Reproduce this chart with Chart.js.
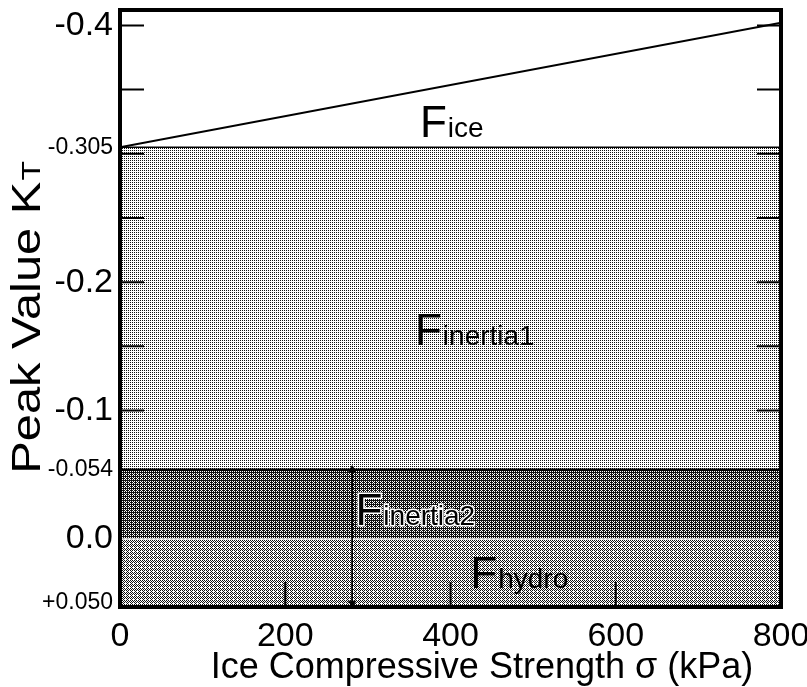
<!DOCTYPE html>
<html>
<head>
<meta charset="utf-8">
<script src="https://cdn.jsdelivr.net/npm/chart.js@4.4.1/dist/chart.umd.min.js"></script>
<style>
  html, body { margin: 0; padding: 0; background: #fff; }
</style>
</head>
<body>
<canvas id="myChart" width="807" height="687"></canvas>
<script>
'use strict';

// band boundaries, Peak Value KT against ice strength (kPa)
let xRange = [0, 800];
let hydroLine = [0, 0];
let inertia2Line = [-0.054, -0.054];
let inertia1Line = [-0.305, -0.305];
let iceLine = [-0.305, -0.402];
let arrowX = [281, 281];
let arrowY = [-0.054, 0.05];

let yTickValues = [-0.4, -0.305, -0.2, -0.1, -0.054, 0, 0.05];
let yTickText = ['-0.4', '-0.305', '-0.2', '-0.1', '-0.054', '0.0', '+0.050'];
let yBigTicks = [-0.4, -0.2, -0.1, 0];
let yInnerTicks = [-0.4, -0.35, -0.3, -0.25, -0.2, -0.15, -0.1];
let xTickValues = [0, 200, 400, 600, 800];
let xInnerTicks = [200, 400, 600];

let fLabels = [
    {sub: 'ice', x: 363, y: -0.313, halo: false},
    {sub: 'inertia1', x: 357, y: -0.151, halo: false},
    {sub: 'inertia2', x: 285, y: -0.011, halo: true},
    {sub: 'hydro', x: 424, y: 0.038, halo: false}
];

let yMin = -0.412;
let yMax = 0.053;
let fontFamily = '"Liberation Sans", Arial, sans-serif';

let canvas = document.getElementById('myChart');
let ctx = canvas.getContext('2d');

// ordered dither, looks like the halftone in the scan
let bayer = [[0, 8, 2, 10], [12, 4, 14, 6], [3, 11, 1, 9], [15, 7, 13, 5]];
function makePattern(level) {
    let c = document.createElement('canvas');
    c.width = 4;
    c.height = 4;
    let g = c.getContext('2d');
    g.fillStyle = '#fff';
    g.fillRect(0, 0, 4, 4);
    g.fillStyle = '#111';
    for (let i = 0; i < 4; i++) {
        for (let j = 0; j < 4; j++) {
            if (bayer[i][j] < level * 16) g.fillRect(j, i, 1, 1);
        }
    }
    return ctx.createPattern(c, 'repeat');
}

function pts(xs, ys) {
    return xs.map((x, i) => ({x: x, y: ys[i]}));
}

function yTickFont(c) {
    let big = c.tick && yBigTicks.includes(c.tick.value);
    return {family: fontFamily, size: big ? 34 : 23};
}

let decor = {
    id: 'decor',
    afterDraw(chart) {
        let c = chart.ctx;
        let a = chart.chartArea;
        let xs = chart.scales.x;
        let ys = chart.scales.y;
        c.save();
        c.strokeStyle = '#000';

        // inward tick marks
        c.lineWidth = 2;
        c.beginPath();
        yInnerTicks.forEach(v => {
            let py = ys.getPixelForValue(v);
            c.moveTo(a.left, py); c.lineTo(a.left + 24, py);
            c.moveTo(a.right, py); c.lineTo(a.right - 24, py);
        });
        xInnerTicks.forEach(v => {
            let px = xs.getPixelForValue(v);
            c.moveTo(px, a.bottom); c.lineTo(px, a.bottom - 25);
        });
        c.stroke();

        // frame
        c.lineWidth = 4;
        c.strokeRect(a.left, a.top, a.right - a.left, a.bottom - a.top);

        // band names
        c.textAlign = 'left';
        c.textBaseline = 'alphabetic';
        fLabels.forEach(l => {
            let px = xs.getPixelForValue(l.x);
            let py = ys.getPixelForValue(l.y);
            c.font = '44px ' + fontFamily;
            let w = c.measureText('F').width;
            if (l.halo) {
                c.strokeStyle = '#fff';
                c.lineWidth = 3;
                c.strokeText('F', px, py);
            }
            c.fillStyle = '#000';
            c.fillText('F', px, py);
            c.font = '28px ' + fontFamily;
            if (l.halo) c.strokeText(l.sub, px + w + 1, py);
            c.fillText(l.sub, px + w + 1, py);
        });

        // axis titles
        c.fillStyle = '#000';
        c.font = '36px ' + fontFamily;
        c.textAlign = 'center';
        c.fillText('Ice Compressive Strength \u03c3 (kPa)', 482, 678);

        // y title, stretched along its length like the scan
        c.translate(40, 318);
        c.rotate(-Math.PI / 2);
        c.scale(1.22, 1);
        c.textAlign = 'left';
        c.font = '40px ' + fontFamily;
        let w1 = c.measureText('Peak Value K').width;
        c.font = '26px ' + fontFamily;
        let w2 = c.measureText('T').width;
        let start = -(w1 + w2) / 2;
        c.font = '40px ' + fontFamily;
        c.fillText('Peak Value K', start, 0);
        c.font = '26px ' + fontFamily;
        c.fillText('T', start + w1 + 1, 0);
        c.restore();
    }
};

let chart = new Chart(ctx, {
    type: 'line',
    data: {
        datasets: [{
            label: 'hydro',
            data: pts(xRange, hydroLine),
            borderColor: '#f2f2f2',
            borderWidth: 1.5,
            backgroundColor: makePattern(0.38),
            fill: {value: yMax},
            pointRadius: 0
        }, {
            label: 'inertia2',
            data: pts(xRange, inertia2Line),
            borderColor: '#000',
            borderWidth: 2.5,
            backgroundColor: makePattern(0.66),
            fill: 0,
            pointRadius: 0
        }, {
            label: 'inertia1',
            data: pts(xRange, inertia1Line),
            borderColor: '#000',
            borderWidth: 1.5,
            backgroundColor: makePattern(0.2),
            fill: 1,
            pointRadius: 0
        }, {
            label: 'ice',
            data: pts(xRange, iceLine),
            borderColor: '#000',
            borderWidth: 2,
            fill: false,
            pointRadius: 0
        }, {
            label: 'arrow',
            data: pts(arrowX, arrowY),
            order: -1,
            borderColor: '#000',
            borderWidth: 1,
            fill: false,
            pointStyle: 'triangle',
            pointRadius: 4,
            pointBackgroundColor: '#000',
            pointBorderColor: '#000',
            pointRotation: c => (c.dataIndex === 0 ? 0 : 180)
        }]
    },
    options: {
        responsive: false,
        animation: false,
        devicePixelRatio: 1,
        layout: {padding: {top: 10, right: 26, left: 0, bottom: 0}},
        plugins: {legend: {display: false}, tooltip: {enabled: false}},
        scales: {
            x: {
                type: 'linear',
                min: 0,
                max: 800,
                grid: {display: false, drawTicks: false},
                border: {display: false},
                afterBuildTicks: s => { s.ticks = xTickValues.map(v => ({value: v})); },
                afterFit: s => { s.height = 80; s.paddingLeft = 0; s.paddingRight = 0; },
                ticks: {
                    color: '#000',
                    padding: 9,
                    maxRotation: 0,
                    autoSkip: false,
                    font: {family: fontFamily, size: 34}
                }
            },
            y: {
                type: 'linear',
                min: yMin,
                max: yMax,
                reverse: true,
                grid: {display: false, drawTicks: false},
                border: {display: false},
                afterBuildTicks: s => { s.ticks = yTickValues.map(v => ({value: v})); },
                afterFit: s => { s.width = 120; s.paddingTop = 0; s.paddingBottom = 0; },
                ticks: {
                    color: '#000',
                    padding: 7,
                    autoSkip: false,
                    font: yTickFont,
                    callback: v => yTickText[yTickValues.indexOf(v)]
                }
            }
        }
    },
    plugins: [decor]
});
</script>
</body>
</html>
